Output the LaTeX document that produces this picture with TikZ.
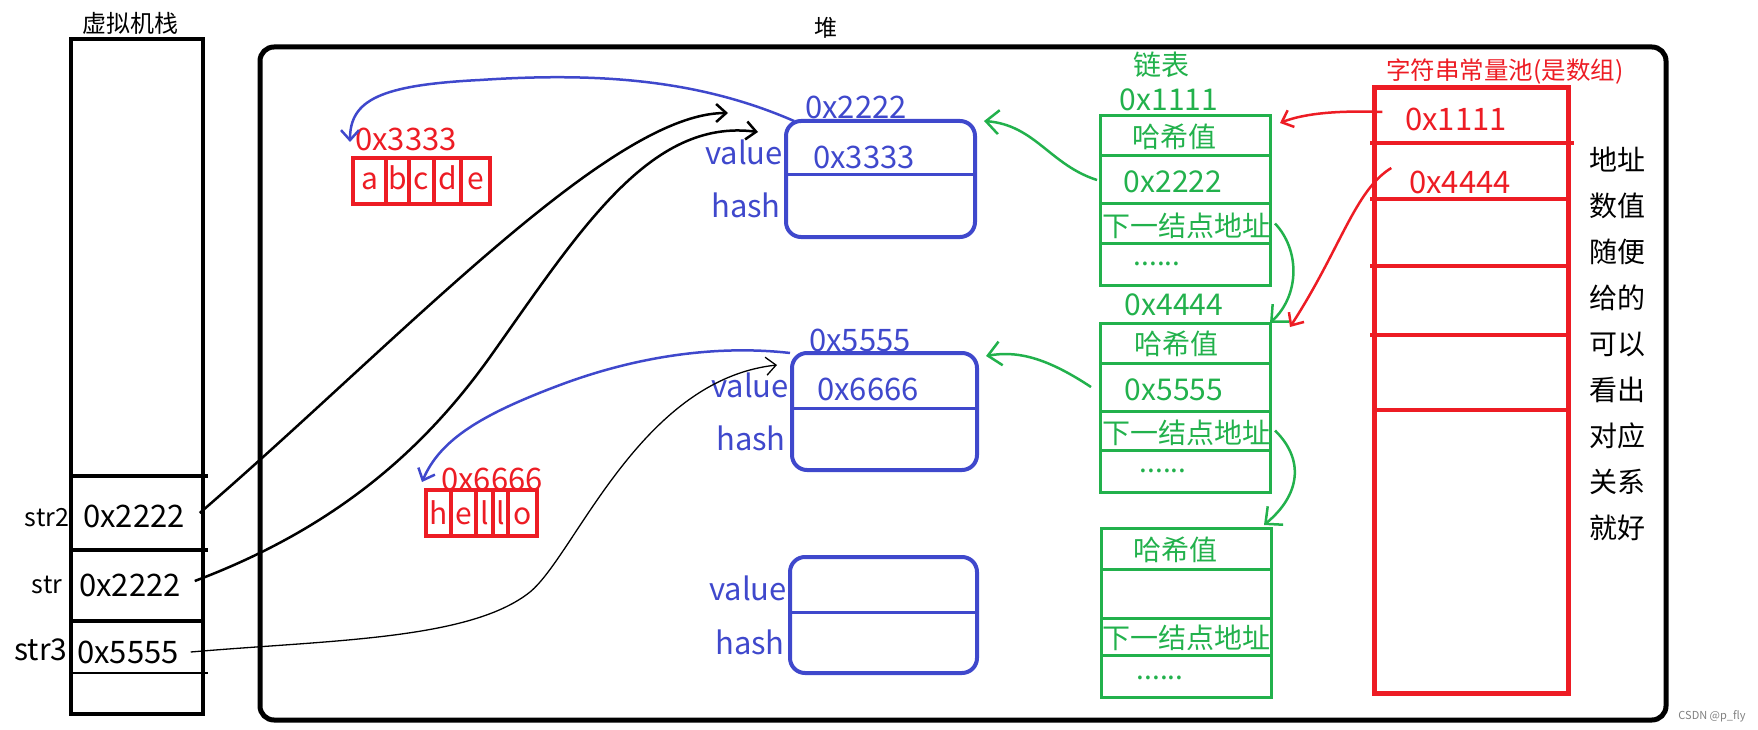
\documentclass[tikz,border=0pt]{standalone}
\usepackage{fontspec}
\setmainfont{Noto Sans CJK SC}
\usetikzlibrary{arrows.meta, positioning}

\definecolor{objblue}{RGB}{63,72,204}
\definecolor{listgreen}{RGB}{34,177,76}
\definecolor{poolred}{RGB}{237,28,36}
\newcommand{\fsz}[1]{\fontsize{#1}{#1}\selectfont}

\begin{document}
\begin{tikzpicture}[
    x=1pt, y=-1pt,
    every node/.style={inner sep=0pt, outer sep=0pt, font=\fsz{31}},
    heapbox/.style={rectangle, draw, line width=5pt, rounded corners=14pt},
    stackbox/.style={rectangle, draw, line width=4.5pt},
    objbox/.style={rectangle, draw=objblue, line width=4pt, rounded corners=15pt},
    objtext/.style={text=objblue},
    listtext/.style={text=listgreen, font=\fsz{28}},
    pooltext/.style={text=poolred},
    lrow/.style={rectangle, draw=listgreen, line width=3pt, minimum width=170pt},
    chr/.style={rectangle, draw=poolred, line width=3.8pt, minimum height=46pt, text height=17pt, text depth=0pt, text=poolred, font=\fsz{30}},
    ptr/.style={-{Straight Barb[length=10pt, width=18pt]}, line width=2.5pt},
    gptr/.style={-{Straight Barb[length=13pt, width=24pt]}, line width=2.5pt, listgreen}
]
\useasboundingbox (0,0) rectangle (1758,730);

% ============ STACK ============
\node[font=\fsz{24}] (stacktitle) at (130,23) {虚拟机栈};
\node[stackbox, minimum width=132pt, minimum height=675pt] (stack) at (137,376.5) {};
\draw[line width=4pt, shorten >=-5pt] (stack.west |- 0,476) -- (stack.east |- 0,476);
\draw[line width=4pt, shorten >=-5pt] (stack.west |- 0,550) -- (stack.east |- 0,550);
\draw[line width=4pt] (stack.west |- 0,621) -- (stack.east |- 0,621);
\draw[line width=2.5pt, shorten >=-5pt] (stack.west |- 0,673) -- (stack.east |- 0,673);

\node (sv2) at (134,516) {0x2222};
\node (sv) at (130,585) {0x2222};
\node (sv3) at (128,652) {0x5555};
\node[font=\fsz{25}] (sn2) at (47,518) {str2};
\node[font=\fsz{25}] (sn) at (47,585) {str};
\node[font=\fsz{30}] (sn3) at (41,650) {str3};

% ============ HEAP ============
\node[font=\fsz{23}] (heaptitle) at (826,28) {堆};
\node[heapbox, minimum width=1406pt, minimum height=673pt] (heap) at (963,383.5) {};

% String objects
\node[objbox, minimum width=189pt, minimum height=116pt] (obj1) at (880.5,179) {};
\draw[objblue, line width=3pt] ([yshift=4pt]obj1.west) -- ([yshift=4pt]obj1.east);
\node[objtext] (addr1) at (856,107) {0x2222};
\node[objtext] (val1) at (744,152) {value};
\node[objtext] (hash1) at (746,205) {hash};
\node[objtext] (in1) at (864,157) {0x3333};

\node[objbox, minimum width=185pt, minimum height=117pt] (obj2) at (884.5,411.5) {};
\draw[objblue, line width=3pt] ([yshift=3pt]obj2.west) -- ([yshift=3pt]obj2.east);
\node[objtext] (addr2) at (860,340) {0x5555};
\node[objtext] (val2) at (750,385) {value};
\node[objtext] (hash2) at (751,438) {hash};
\node[objtext] (in2) at (868,389) {0x6666};

\node[objbox, minimum width=187pt, minimum height=116pt] (obj3) at (883.5,615) {};
\draw[objblue, line width=3pt] ([yshift=3pt]obj3.west) -- ([yshift=3pt]obj3.east);
\node[objtext] (val3) at (748,588) {value};
\node[objtext] (hash3) at (750,642) {hash};

% char arrays
\node[pooltext] (arr1addr) at (406,139) {0x3333};
\node[chr, minimum width=33pt, anchor=north west] (ca) at (353,158) {a};
\node[chr, minimum width=23pt, right=0pt of ca] (cb) {b};
\node[chr, minimum width=25pt, right=0pt of cb] (cc) {c};
\node[chr, minimum width=27pt, right=0pt of cc] (cd) {d};
\node[chr, minimum width=29pt, right=0pt of cd] (ce) {e};

\node[pooltext] (arr2addr) at (492,479) {0x6666};
\node[chr, text height=23pt, minimum width=25pt, anchor=north west] (ch) at (426,490) {h};
\node[chr, text height=23pt, minimum width=25pt, right=0pt of ch] (ch2) {e};
\node[chr, text height=23pt, minimum width=17pt, right=0pt of ch2] (ch3) {l};
\node[chr, text height=23pt, minimum width=15pt, right=0pt of ch3] (ch4) {l};
\node[chr, text height=23pt, minimum width=29pt, right=0pt of ch4] (ch5) {o};

% ============ LINKED LIST ============
\node[listtext] (listtitle) at (1161,65) {链表};
\node[listtext, font=\fsz{30}] (lad1) at (1169,100) {0x1111};
\node[lrow, minimum height=40pt, anchor=north west] (l1a) at (1100,116) {};
\node[lrow, minimum height=48pt, below=0pt of l1a] (l1b) {};
\node[lrow, minimum height=39pt, below=0pt of l1b] (l1c) {};
\node[lrow, minimum height=42pt, below=0pt of l1c] (l1d) {};
\node[listtext] (l1hash) at (1174,137) {哈希值};
\node[listtext, font=\fsz{30}] (l1val) at (1173,182) {0x2222};
\node[listtext] (l1next) at (1186,226) {下一结点地址};
\node[listtext] (l1dots) at (1157,264) {......};

\node[listtext, font=\fsz{30}] (lad2) at (1174,305) {0x4444};
\node[lrow, minimum height=40pt, anchor=north west] (l2a) at (1100,323) {};
\node[lrow, minimum height=48pt, below=0pt of l2a] (l2b) {};
\node[lrow, minimum height=39pt, below=0pt of l2b] (l2c) {};
\node[lrow, minimum height=42pt, below=0pt of l2c] (l2d) {};
\node[listtext] (l2hash) at (1176,344) {哈希值};
\node[listtext, font=\fsz{30}] (l2val) at (1174,390) {0x5555};
\node[listtext] (l2next) at (1186,433) {下一结点地址};
\node[listtext] (l2dots) at (1163,471) {......};

\node[lrow, minimum height=41pt, anchor=north west] (l3a) at (1101,528) {};
\node[lrow, minimum height=49pt, below=0pt of l3a] (l3b) {};
\node[lrow, minimum height=37pt, below=0pt of l3b] (l3c) {};
\node[lrow, minimum height=42pt, below=0pt of l3c] (l3d) {};
\node[listtext] (l3hash) at (1175,550) {哈希值};
\node[listtext] (l3next) at (1186,638) {下一结点地址};
\node[listtext] (l3dots) at (1160,678) {......};

% ============ STRING POOL ============
\node[pooltext, font=\fsz{24.5}] (pooltitle) at (1505,72) {字符串常量池(是数组)};
\node[draw=poolred, line width=5pt, minimum width=194pt, minimum height=605pt] (pool) at (1471,390.5) {};
\draw[poolred, line width=4.5pt, shorten <=-4pt, shorten >=-6pt] (pool.west |- 0,143) -- (pool.east |- 0,143);
\draw[poolred, line width=4.5pt, shorten <=-4pt] (pool.west |- 0,199) -- (pool.east |- 0,199);
\draw[poolred, line width=4.5pt, shorten <=-4pt, shorten >=-3pt] (pool.west |- 0,266) -- (pool.east |- 0,266);
\draw[poolred, line width=4.5pt, shorten <=-4pt, shorten >=-3pt] (pool.west |- 0,335) -- (pool.east |- 0,335);
\draw[poolred, line width=4.5pt, shorten >=-3pt] (pool.west |- 0,410) -- (pool.east |- 0,410);
\node[pooltext] (pv1) at (1456,119) {0x1111};
\node[pooltext] (pv2) at (1460,182) {0x4444};

\node[align=center, font=\fontsize{28}{46}\selectfont] (hint) at (1617,344) {地址\\数值\\随便\\给的\\可以\\看出\\对应\\关系\\就好};

% ============ POINTERS ============
\draw[ptr] ([xshift=15pt,yshift=3pt]sv2.east) .. controls (400,340) and (610,113) .. ([xshift=-58pt,yshift=8pt]obj1.north west);
\draw[ptr] ([xshift=14pt,yshift=4pt]sv.east) .. controls (330,530) and (420,455) .. (490,357)
    .. controls (580,230) and (650,118) .. ([xshift=-28pt,yshift=-11pt]obj1.north west);
\draw[ptr, line width=1.3pt] ([xshift=12pt]sv3.east) .. controls (330,640) and (470,640) .. (530,592)
    .. controls (575,555) and (640,380) .. ([xshift=-15pt,yshift=-12pt]obj2.north west);

% value -> char array
\draw[ptr, objblue] ([xshift=8pt]obj1.north west) .. controls (700,80) and (600,72) .. (480,80)
    .. controls (380,85) and (350,100) .. ([xshift=-3pt,yshift=16pt]ca.north west);
\draw[ptr, objblue] ([xshift=-2pt]obj2.north west) .. controls (720,345) and (640,355) .. (560,385)
    .. controls (480,415) and (440,440) .. ([xshift=-4pt,yshift=8pt]ch.north west);

% list -> object, list -> next
\draw[gptr] ([xshift=-3pt]l1b.west) .. controls (1050,165) and (1035,125) .. ([xshift=9pt]obj1.north east);
\draw[gptr] ([xshift=-9pt]l2b.west) .. controls (1050,360) and (1020,350) .. ([xshift=9pt,yshift=-3pt]obj2.north east);
\draw[gptr] ([xshift=5pt]l1c.east) .. controls (1300,250) and (1300,295) .. (l2a.north east);
\draw[gptr] ([xshift=5pt]l2c.east) .. controls (1305,460) and (1300,495) .. ([xshift=-7pt,yshift=3pt]l3a.north east);

% pool -> list
\draw[ptr, poolred] ([xshift=-23pt,yshift=7pt]pv1.west) .. controls (1330,110) and (1300,115) .. ([xshift=10pt,yshift=-7pt]l1a.north east);
\draw[ptr, poolred] ([xshift=-18pt,yshift=14pt]pv2.west) .. controls (1355,190) and (1340,250) .. ([xshift=20pt,yshift=-4pt]l2a.north east);

\node[text=gray, font=\fsz{11}] (mark) at (1712,716) {CSDN @p\_fly};
\end{tikzpicture}
\end{document}
